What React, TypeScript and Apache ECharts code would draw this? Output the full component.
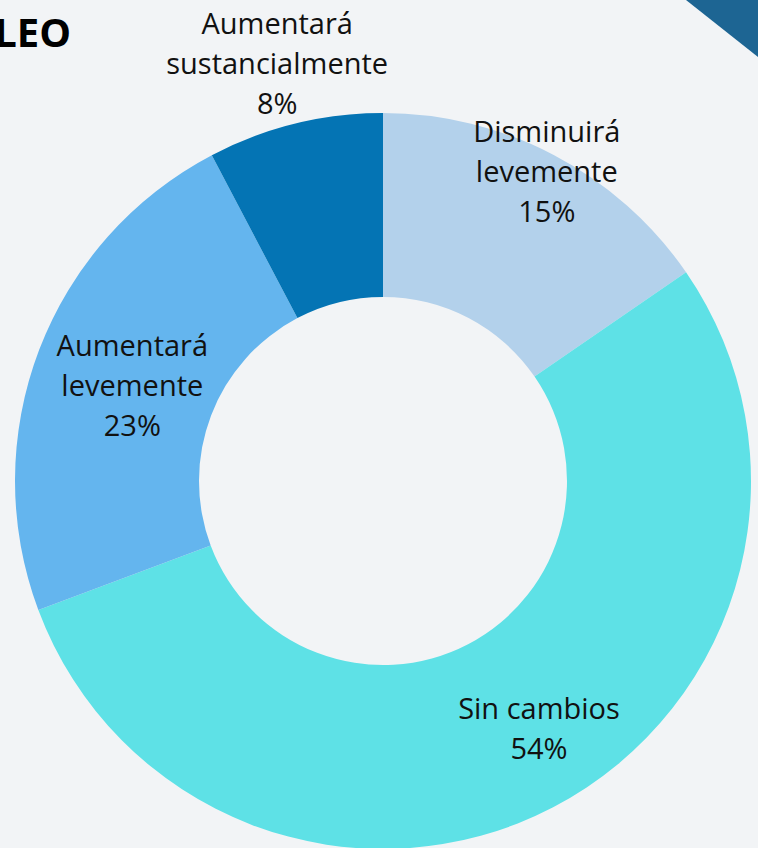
import React, { useEffect, useRef } from "react";
import * as echarts from "echarts";

const categories = [
  "Disminuirá\nlevemente",
  "Sin cambios",
  "Aumentará\nlevemente",
  "Aumentará\nsustancialmente",
];
const values = [15.4, 53.9, 23.0, 7.7];
const colors = ["#b3d1eb", "#5ee1e6", "#64b5ee", "#0474b4"];
const labelShift = [
  [34, -64],
  [27, -1],
  [10, 3],
  [-39, -148],
];
const titleText = "LEO";

export default function App() {
  const ref = useRef<HTMLDivElement>(null);
  useEffect(() => {
    if (!ref.current) return;
    const chart = echarts.init(ref.current, undefined, { renderer: "svg" });
    chart.setOption({
      animation: false,
      backgroundColor: "#f2f4f6",
      graphic: [
        {
          type: "polygon",
          shape: { points: [[686, 0], [758, 0], [758, 57]] },
          style: { fill: "#1d6593" },
          z: 10,
        },
        {
          type: "text",
          x: 71,
          y: 51,
          style: {
            text: titleText,
            fill: "#000",
            font: "bold 40px 'Open Sans'",
            textAlign: "right",
            textVerticalAlign: "bottom",
          },
        },
      ],
      series: [
        {
          type: "pie",
          center: [383, 481],
          radius: [184, 368],
          startAngle: 90,
          clockwise: true,
          percentPrecision: 0,
          avoidLabelOverlap: false,
          label: {
            show: true,
            position: "inside",
            formatter: "{b}\n{d}%",
            color: "#111",
            fontFamily: "Open Sans",
            fontSize: 29,
            lineHeight: 40,
            align: "center",
          },
          labelLine: { show: false },
          labelLayout: (params: any) => {
            const s = labelShift[params.dataIndex] || [0, 0];
            return { dx: s[0], dy: s[1] };
          },
          emphasis: { disabled: true },
          data: categories.map((c, i) => ({
            name: c,
            value: values[i],
            itemStyle: { color: colors[i] },
          })),
        },
      ],
    });
    return () => chart.dispose();
  }, []);
  return (
    <div
      ref={ref}
      style={{ position: "fixed", left: 0, top: 0, width: 758, height: 848 }}
    />
  );
}
